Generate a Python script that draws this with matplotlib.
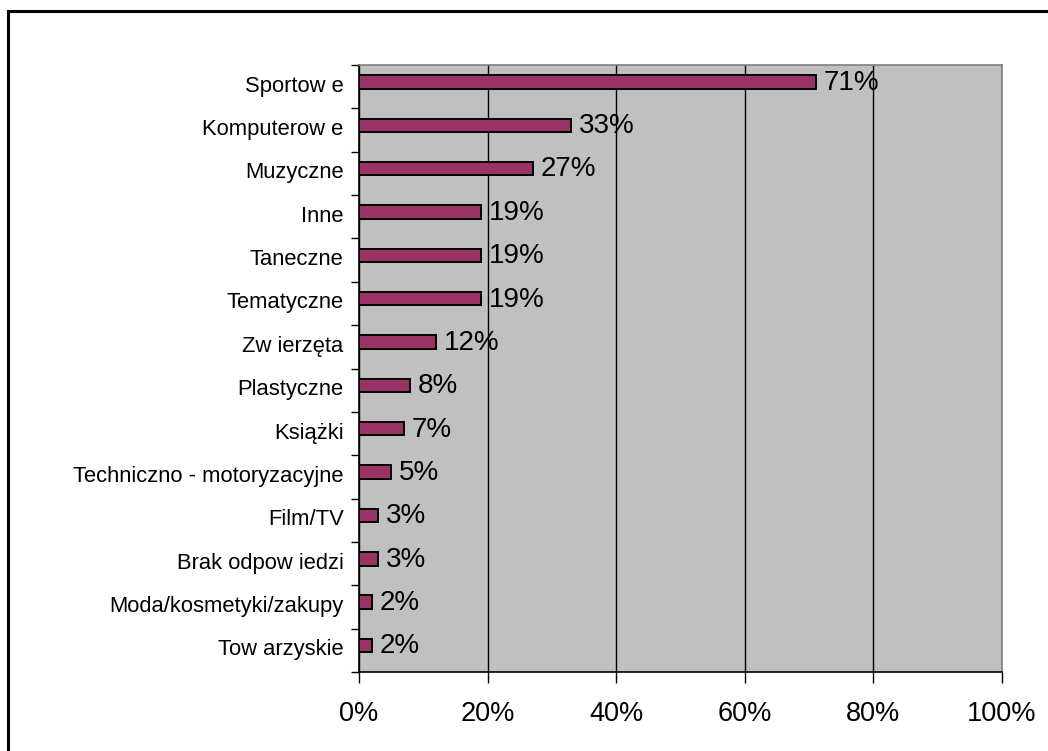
import matplotlib.pyplot as plt
import numpy as np
from matplotlib.patches import Rectangle
from matplotlib.ticker import FixedLocator
from matplotlib.transforms import ScaledTranslation

plt.rcParams['font.family'] = ['Liberation Sans', 'DejaVu Sans']

# Categories (top to bottom) and their shares in percent
categories = ["Sportow e", "Komputerow e", "Muzyczne", "Inne", "Taneczne",
              "Tematyczne", "Zw ierzęta", "Plastyczne", "Książki",
              "Techniczno - motoryzacyjne", "Film/TV", "Brak odpow iedzi",
              "Moda/kosmetyki/zakupy", "Tow arzyskie"]
values = [71, 33, 27, 19, 19, 19, 12, 8, 7, 5, 3, 3, 2, 2]
x_ticks = [0, 20, 40, 60, 80, 100]
x_tick_labels = ["0%", "20%", "40%", "60%", "80%", "100%"]

fig = plt.figure(figsize=(10.48, 7.51), dpi=100)
ax = fig.add_axes([359 / 1048, 1 - 672 / 751, 643 / 1048, 607 / 751])

# outer frame around the whole chart
fig.patches.append(Rectangle((7.5 / 1048, -0.05), 1.1, 1 - 10.5 / 751 + 0.05,
                             transform=fig.transFigure, fill=False,
                             edgecolor='black', linewidth=2.2))

ypos = np.arange(len(categories))
# Excel draws the bars a little above the centre of each band
bar_y = ypos - 0.11
ax.barh(bar_y, values, height=0.31, color='#993366', edgecolor='black',
        linewidth=1.4, zorder=3)

for y, v in zip(bar_y, values):
    ax.text(v + 1.2, y + 0.02, f"{v}%", va='center', ha='left', fontsize=20,
            zorder=4)

ax.set_facecolor('#C0C0C0')
ax.set_xlim(0, 100)
ax.set_ylim(len(categories) - 0.5, -0.5)

ax.set_xticks(x_ticks)
ax.set_xticklabels(x_tick_labels, fontsize=19.5)
ax.xaxis.grid(True, color='black', linewidth=1.0, zorder=1)
ax.set_axisbelow(True)
ax.tick_params(axis='x', direction='out', length=8, width=1, pad=13)

ax.set_yticks(ypos)
ax.set_yticklabels(categories, fontsize=15.8)
ax.tick_params(axis='y', which='major', length=0, pad=11)
ax.yaxis.set_minor_locator(FixedLocator(np.arange(-0.5, len(categories), 1)))
ax.tick_params(axis='y', which='minor', direction='out', length=6, width=1)
# nudge the category labels up a few pixels
shift = ScaledTranslation(0, 3 / 100, fig.dpi_scale_trans)
for lbl in ax.get_yticklabels():
    lbl.set_transform(lbl.get_transform() + shift)

ax.spines['left'].set_color('black')
ax.spines['bottom'].set_color('black')
ax.spines['left'].set_linewidth(1.2)
ax.spines['bottom'].set_linewidth(1.2)
for s in ['top', 'right']:
    ax.spines[s].set_color('#808080')
    ax.spines[s].set_linewidth(1.2)

fig.savefig('out.png', dpi=100)
